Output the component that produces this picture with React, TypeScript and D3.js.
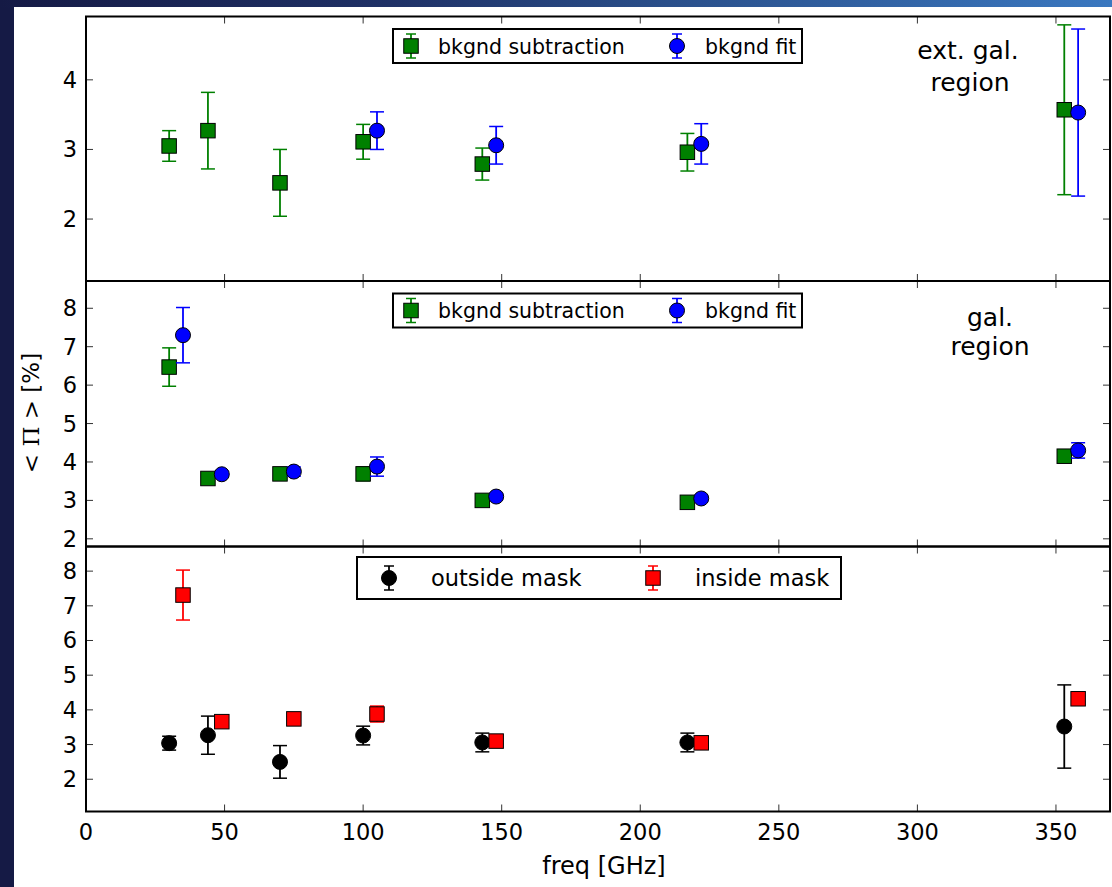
import React from "react";
import * as d3 from "d3";

// ---------- data ----------
const xTicks = [0, 50, 100, 150, 200, 250, 300, 350];
const freqA = [30, 44, 70, 100, 143, 217, 353];
const freqB = [35, 49, 75, 105, 148, 222, 358];

// panel 1: ext. gal. region
const extSubVal = [3.05, 3.27, 2.52, 3.11, 2.79, 2.96, 3.57];
const extSubErr = [0.22, 0.55, 0.48, 0.25, 0.23, 0.27, 1.22];
const extFitFreq = [105, 148, 222, 358];
const extFitVal = [3.27, 3.06, 3.08, 3.53];
const extFitErr = [0.27, 0.27, 0.29, 1.2];

// panel 2: gal. region
const galSubVal = [6.47, 3.57, 3.69, 3.69, 3.0, 2.95, 4.15];
const galSubErr = [0.5, 0.06, 0.08, 0.18, 0.06, 0.06, 0.1];
const galFitVal = [7.3, 3.68, 3.75, 3.88, 3.1, 3.05, 4.3];
const galFitErr = [0.72, 0.08, 0.12, 0.25, 0.08, 0.08, 0.2];

// panel 3: masks
const outsideVal = [3.04, 3.27, 2.5, 3.26, 3.06, 3.06, 3.52];
const outsideErr = [0.2, 0.55, 0.47, 0.27, 0.27, 0.27, 1.2];
const insideVal = [7.31, 3.66, 3.74, 3.88, 3.1, 3.05, 4.32];
const insideErr = [0.72, 0.08, 0.06, 0.23, 0.08, 0.06, 0.08];

const yTicks1 = [2, 3, 4];
const yTicks23 = [2, 3, 4, 5, 6, 7, 8];

// ---------- layout ----------
const W = 1112;
const H = 887;
const left = 86;
const right = 1110;
const x = d3.scaleLinear().domain([0, 369.5]).range([left, right]);

type Panel = {
  top: number;
  bottom: number;
  domain: [number, number];
  ticks: number[];
};
const panels: Panel[] = [
  { top: 16.5, bottom: 281, domain: [1.11, 4.91], ticks: yTicks1 },
  { top: 281, bottom: 546.5, domain: [1.8, 8.71], ticks: yTicks23 },
  { top: 546.5, bottom: 811.5, domain: [1.07, 8.71], ticks: yTicks23 },
];

const GREEN = "#008000";
const BLUE = "#0000ff";
const RED = "#ff0000";
const BLACK = "#000000";
const FONT = "'DejaVu Sans', Verdana, sans-serif";

function Marker({ kind, cx, cy, color }: { kind: string; cx: number; cy: number; color: string }) {
  if (kind === "s") {
    const s = 14.5;
    return <rect x={cx - s / 2} y={cy - s / 2} width={s} height={s} fill={color} stroke="#000" strokeWidth={1} />;
  }
  return <circle cx={cx} cy={cy} r={7.5} fill={color} stroke="#000" strokeWidth={1} />;
}

function ErrSeries({
  xs, vals, errs, y, color, kind,
}: {
  xs: number[]; vals: number[]; errs: number[]; y: d3.ScaleLinear<number, number>; color: string; kind: string;
}) {
  return (
    <g>
      {xs.map((f, i) => {
        const cx = x(f);
        const y0 = y(vals[i] - errs[i]);
        const y1 = y(vals[i] + errs[i]);
        return (
          <g key={i}>
            <line x1={cx} x2={cx} y1={y0} y2={y1} stroke={color} strokeWidth={1.8} />
            <line x1={cx - 7} x2={cx + 7} y1={y0} y2={y0} stroke={color} strokeWidth={1.5} />
            <line x1={cx - 7} x2={cx + 7} y1={y1} y2={y1} stroke={color} strokeWidth={1.5} />
          </g>
        );
      })}
      {xs.map((f, i) => (
        <Marker key={"m" + i} kind={kind} cx={x(f)} cy={y(vals[i])} color={color} />
      ))}
    </g>
  );
}

function LegendHandle({ cx, cy, color, kind }: { cx: number; cy: number; color: string; kind: string }) {
  return (
    <g>
      <line x1={cx} x2={cx} y1={cy - 12} y2={cy + 12} stroke={color} strokeWidth={1.8} />
      <line x1={cx - 5} x2={cx + 5} y1={cy - 12} y2={cy - 12} stroke={color} strokeWidth={1.5} />
      <line x1={cx - 5} x2={cx + 5} y1={cy + 12} y2={cy + 12} stroke={color} strokeWidth={1.5} />
      <Marker kind={kind} cx={cx} cy={cy} color={color} />
    </g>
  );
}

function Frame({ p, y }: { p: Panel; y: d3.ScaleLinear<number, number> }) {
  const tl = 7;
  return (
    <g>
      {xTicks.map((t) => (
        <g key={"xt" + t}>
          <line x1={x(t)} x2={x(t)} y1={p.top} y2={p.top + tl} stroke="#333" strokeWidth={1} />
          <line x1={x(t)} x2={x(t)} y1={p.bottom} y2={p.bottom - tl} stroke="#333" strokeWidth={1} />
        </g>
      ))}
      {p.ticks.map((t) => (
        <g key={"yt" + t}>
          <line x1={left} x2={left + tl} y1={y(t)} y2={y(t)} stroke="#333" strokeWidth={1} />
          <line x1={right} x2={right - tl} y1={y(t)} y2={y(t)} stroke="#333" strokeWidth={1} />
          <text x={77} y={y(t) + 8} textAnchor="end" fontSize={22.5} fontFamily={FONT} fill="#000">
            {t}
          </text>
        </g>
      ))}
      <rect x={left} y={p.top} width={right - left} height={p.bottom - p.top} fill="none" stroke="#000" strokeWidth={2} />
    </g>
  );
}

export default function App() {
  const ys = panels.map((p) => d3.scaleLinear().domain(p.domain).range([p.bottom, p.top]));
  const [y1, y2, y3] = ys;

  return (
    <div style={{ position: "absolute", left: 0, top: 0 }}>
      <svg width={W} height={H} style={{ display: "block" }}>
        <defs>
          <linearGradient id="topband" x1="0" x2="1" y1="0" y2="0">
            <stop offset="0" stopColor="#151a45" />
            <stop offset="0.35" stopColor="#1f3166" />
            <stop offset="0.6" stopColor="#2a4f8a" />
            <stop offset="1" stopColor="#3a78c0" />
          </linearGradient>
        </defs>
        <rect x={0} y={0} width={W} height={H} fill="#151a45" />
        <rect x={0} y={0} width={W} height={8} fill="url(#topband)" />
        <rect x={14} y={7} width={W - 14} height={H - 7} fill="#ffffff" />

        {/* panel backgrounds & frames */}
        {panels.map((p, i) => (
          <Frame key={i} p={p} y={ys[i]} />
        ))}

        {/* panel 1 */}
        <ErrSeries xs={freqA} vals={extSubVal} errs={extSubErr} y={y1} color={GREEN} kind="s" />
        <ErrSeries xs={extFitFreq} vals={extFitVal} errs={extFitErr} y={y1} color={BLUE} kind="o" />

        {/* panel 2 */}
        <ErrSeries xs={freqA} vals={galSubVal} errs={galSubErr} y={y2} color={GREEN} kind="s" />
        <ErrSeries xs={freqB} vals={galFitVal} errs={galFitErr} y={y2} color={BLUE} kind="o" />

        {/* panel 3 */}
        <ErrSeries xs={freqA} vals={outsideVal} errs={outsideErr} y={y3} color={BLACK} kind="o" />
        <ErrSeries xs={freqB} vals={insideVal} errs={insideErr} y={y3} color={RED} kind="s" />

        {/* legends panel 1 & 2 */}
        {[panels[0], panels[1]].map((p, i) => {
          const top = p.top + 12.5;
          const cy = top + 17;
          return (
            <g key={"lg" + i}>
              <rect x={393} y={top} width={409} height={34} fill="#fff" stroke="#000" strokeWidth={2} />
              <LegendHandle cx={411} cy={cy} color={GREEN} kind="s" />
              <text x={438} y={cy + 7.5} fontSize={20.5} fontFamily={FONT} fill="#000">bkgnd subtraction</text>
              <LegendHandle cx={677} cy={cy} color={BLUE} kind="o" />
              <text x={705} y={cy + 7.5} fontSize={20.5} fontFamily={FONT} fill="#000">bkgnd fit</text>
            </g>
          );
        })}

        {/* legend panel 3 */}
        <g>
          <rect x={357} y={557} width={484} height={42} fill="#fff" stroke="#000" strokeWidth={2} />
          <LegendHandle cx={389} cy={578} color={BLACK} kind="o" />
          <text x={431} y={586} fontSize={22.5} fontFamily={FONT} fill="#000">outside mask</text>
          <LegendHandle cx={653} cy={578} color={RED} kind="s" />
          <text x={695} y={586} fontSize={22.5} fontFamily={FONT} fill="#000">inside mask</text>
        </g>

        {/* region annotations */}
        <text x={968} y={59} textAnchor="middle" fontSize={25} fontFamily={FONT} fill="#000">ext. gal.</text>
        <text x={970} y={91} textAnchor="middle" fontSize={25} fontFamily={FONT} fill="#000">region</text>
        <text x={990} y={326} textAnchor="middle" fontSize={25} fontFamily={FONT} fill="#000">gal.</text>
        <text x={990} y={355} textAnchor="middle" fontSize={25} fontFamily={FONT} fill="#000">region</text>

        {/* x tick labels */}
        {xTicks.map((t) => (
          <text key={"xl" + t} x={x(t)} y={840} textAnchor="middle" fontSize={22.5} fontFamily={FONT} fill="#000">
            {t}
          </text>
        ))}
        <text x={604} y={874} textAnchor="middle" fontSize={24} fontFamily={FONT} fill="#000">freq [GHz]</text>

        {/* y label */}
        <text
          transform={`translate(39, 413) rotate(-90)`}
          textAnchor="middle"
          fontSize={23}
          fill="#000"
        >
          <tspan fontFamily="'DejaVu Serif', 'Liberation Serif', serif">{"< Π >"}</tspan>
          <tspan fontFamily={FONT}>{"  [%]"}</tspan>
        </text>
      </svg>
    </div>
  );
}
